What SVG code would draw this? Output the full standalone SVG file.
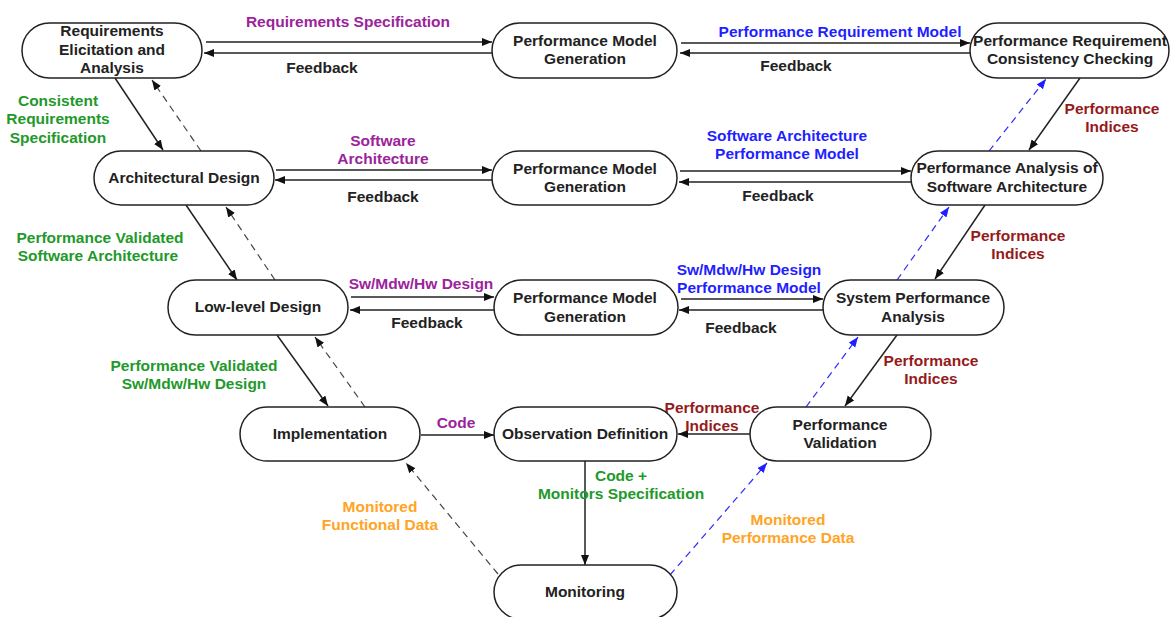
<svg xmlns="http://www.w3.org/2000/svg" width="1176" height="617" viewBox="0 0 1176 617">
  <style>
    .node rect { fill: #ffffff; stroke: #222222; stroke-width: 1.5; }
    text { font-family: "Liberation Sans", Arial, sans-serif; font-weight: bold; font-size: 15.5px; text-anchor: middle; }
    .nt { fill: #222222; }
    .fb { fill: #222222; }
    .purple { fill: #9b239b; }
    .green { fill: #22992a; }
    .blue { fill: #1f1fff; }
    .red { fill: #951b1b; }
    .orange { fill: #ffa424; }
    .solid { stroke: #222222; stroke-width: 1.5; fill: none; marker-end: url(#ah); }
    .dash { stroke: #444444; stroke-width: 1.2; fill: none; stroke-dasharray: 7 5; marker-end: url(#ah); }
    .bdash { stroke: #2a2aff; stroke-width: 1.2; fill: none; stroke-dasharray: 7 5; marker-end: url(#ahb); }
  </style>
  <defs>
    <marker id="ah" markerUnits="userSpaceOnUse" markerWidth="11" markerHeight="9" refX="10" refY="4" orient="auto">
      <path d="M0,0 L10,4 L0,8 z" fill="#111111"/>
    </marker>
    <marker id="ahb" markerUnits="userSpaceOnUse" markerWidth="11" markerHeight="9" refX="10" refY="4" orient="auto">
      <path d="M0,0 L10,4 L0,8 z" fill="#1f1fff"/>
    </marker>
  </defs>

  <rect width="1176" height="617" fill="#ffffff"/>

  <!-- connectors -->
  <g id="connectors">
    <!-- row 1 -->
    <line class="solid" x1="206" y1="42" x2="492" y2="42"/>
    <line class="solid" x1="492" y1="53" x2="204" y2="53"/>
    <line class="solid" x1="681" y1="43" x2="970" y2="43"/>
    <line class="solid" x1="970" y1="53" x2="680" y2="53"/>
    <!-- row 2 -->
    <line class="solid" x1="276" y1="170" x2="492" y2="170"/>
    <line class="solid" x1="492" y1="180" x2="275" y2="180"/>
    <line class="solid" x1="680" y1="171" x2="911" y2="171"/>
    <line class="solid" x1="911" y1="182" x2="679" y2="182"/>
    <!-- row 3 -->
    <line class="solid" x1="351" y1="297" x2="494" y2="297"/>
    <line class="solid" x1="494" y1="310" x2="350" y2="310"/>
    <line class="solid" x1="681" y1="299" x2="823" y2="299"/>
    <line class="solid" x1="823" y1="310" x2="679" y2="310"/>
    <!-- row 4 -->
    <line class="solid" x1="421" y1="435" x2="494" y2="435"/>
    <line class="solid" x1="750" y1="434" x2="678" y2="434"/>
    <line class="solid" x1="585" y1="461" x2="585" y2="565"/>
    <!-- left descent -->
    <line class="solid" x1="115" y1="78" x2="163" y2="150"/>
    <line class="dash" x1="201" y1="151" x2="152" y2="80"/>
    <line class="solid" x1="186" y1="205" x2="237" y2="280"/>
    <line class="dash" x1="275" y1="280" x2="226" y2="207"/>
    <line class="solid" x1="277" y1="335" x2="328" y2="406"/>
    <line class="dash" x1="365" y1="407" x2="315" y2="337"/>
    <!-- right ascent -->
    <line class="solid" x1="1080" y1="78" x2="1029" y2="150"/>
    <line class="bdash" x1="989" y1="151" x2="1046" y2="79"/>
    <line class="solid" x1="985" y1="205" x2="935" y2="279"/>
    <line class="bdash" x1="897" y1="280" x2="949" y2="207"/>
    <line class="solid" x1="897" y1="335" x2="845" y2="406"/>
    <line class="bdash" x1="806" y1="407" x2="858" y2="337"/>
    <!-- monitoring feedback -->
    <line class="dash" x1="498" y1="574" x2="406" y2="463"/>
    <line class="bdash" x1="670" y1="575" x2="767" y2="463"/>
  </g>

  <!-- connector labels -->
  <g id="labels">
    <text class="purple" x="348" y="27">Requirements Specification</text>
    <text class="fb" x="322" y="73">Feedback</text>
    <text class="blue" x="840" y="37">Performance Requirement Model</text>
    <text class="fb" x="796" y="71">Feedback</text>

    <text class="purple" x="383" y="146">Software</text>
    <text class="purple" x="383" y="164">Architecture</text>
    <text class="fb" x="383" y="202">Feedback</text>
    <text class="blue" x="787" y="141">Software Architecture</text>
    <text class="blue" x="787" y="159">Performance Model</text>
    <text class="fb" x="778" y="201">Feedback</text>

    <text class="purple" x="421" y="289">Sw/Mdw/Hw Design</text>
    <text class="fb" x="427" y="328">Feedback</text>
    <text class="blue" x="749" y="275">Sw/Mdw/Hw Design</text>
    <text class="blue" x="749" y="293">Performance Model</text>
    <text class="fb" x="741" y="333">Feedback</text>

    <text class="purple" x="456" y="428">Code</text>
    <text class="red" x="712" y="413">Performance</text>
    <text class="red" x="712" y="431">Indices</text>
    <text class="green" x="621" y="481">Code +</text>
    <text class="green" x="621" y="499">Monitors Specification</text>

    <text class="green" x="58" y="106">Consistent</text>
    <text class="green" x="58" y="124">Requirements</text>
    <text class="green" x="58" y="143">Specification</text>
    <text class="green" x="100" y="243">Performance Validated</text>
    <text class="green" x="98" y="261">Software Architecture</text>
    <text class="green" x="194" y="371">Performance Validated</text>
    <text class="green" x="194" y="389">Sw/Mdw/Hw Design</text>

    <text class="red" x="1112" y="114">Performance</text>
    <text class="red" x="1112" y="132">Indices</text>
    <text class="red" x="1018" y="241">Performance</text>
    <text class="red" x="1018" y="259">Indices</text>
    <text class="red" x="931" y="366">Performance</text>
    <text class="red" x="931" y="384">Indices</text>

    <text class="orange" x="380" y="512">Monitored</text>
    <text class="orange" x="380" y="530">Functional Data</text>
    <text class="orange" x="788" y="525">Monitored</text>
    <text class="orange" x="788" y="543">Performance Data</text>
  </g>

  <!-- nodes -->
  <g id="req" class="node">
    <rect x="22" y="23" width="180" height="55" rx="27.5"/>
    <text class="nt" x="112" y="36">Requirements</text>
    <text class="nt" x="112" y="55">Elicitation and</text>
    <text class="nt" x="112" y="73">Analysis</text>
  </g>
  <g id="pmg1" class="node">
    <rect x="492" y="23" width="185" height="55" rx="27.5"/>
    <text class="nt" x="585" y="46">Performance Model</text>
    <text class="nt" x="585" y="64">Generation</text>
  </g>
  <g id="prcc" class="node">
    <rect x="970" y="23" width="199" height="55" rx="27.5"/>
    <text class="nt" x="1070" y="46">Performance Requirement</text>
    <text class="nt" x="1070" y="64">Consistency Checking</text>
  </g>

  <g id="arch" class="node">
    <rect x="94" y="151" width="180" height="54" rx="27"/>
    <text class="nt" x="184" y="183">Architectural Design</text>
  </g>
  <g id="pmg2" class="node">
    <rect x="492" y="151" width="185" height="54" rx="27"/>
    <text class="nt" x="585" y="174">Performance Model</text>
    <text class="nt" x="585" y="192">Generation</text>
  </g>
  <g id="pasa" class="node">
    <rect x="911" y="151" width="192" height="54" rx="27"/>
    <text class="nt" x="1007" y="173">Performance Analysis of</text>
    <text class="nt" x="1007" y="192">Software Architecture</text>
  </g>

  <g id="lld" class="node">
    <rect x="168" y="280" width="180" height="55" rx="27.5"/>
    <text class="nt" x="258" y="312">Low-level Design</text>
  </g>
  <g id="pmg3" class="node">
    <rect x="494" y="280" width="184" height="55" rx="27.5"/>
    <text class="nt" x="585" y="303">Performance Model</text>
    <text class="nt" x="585" y="322">Generation</text>
  </g>
  <g id="spa" class="node">
    <rect x="823" y="280" width="181" height="55" rx="27.5"/>
    <text class="nt" x="913" y="303">System Performance</text>
    <text class="nt" x="913" y="322">Analysis</text>
  </g>

  <g id="impl" class="node">
    <rect x="240" y="407" width="180" height="54" rx="27"/>
    <text class="nt" x="330" y="439">Implementation</text>
  </g>
  <g id="obs" class="node">
    <rect x="494" y="407" width="183" height="54" rx="27"/>
    <text class="nt" x="585" y="439">Observation Definition</text>
  </g>
  <g id="pval" class="node">
    <rect x="750" y="407" width="181" height="54" rx="27"/>
    <text class="nt" x="840" y="430">Performance</text>
    <text class="nt" x="840" y="448">Validation</text>
  </g>

  <g id="mon" class="node">
    <rect x="494" y="565" width="183" height="54" rx="27"/>
    <text class="nt" x="585" y="597">Monitoring</text>
  </g>
</svg>
